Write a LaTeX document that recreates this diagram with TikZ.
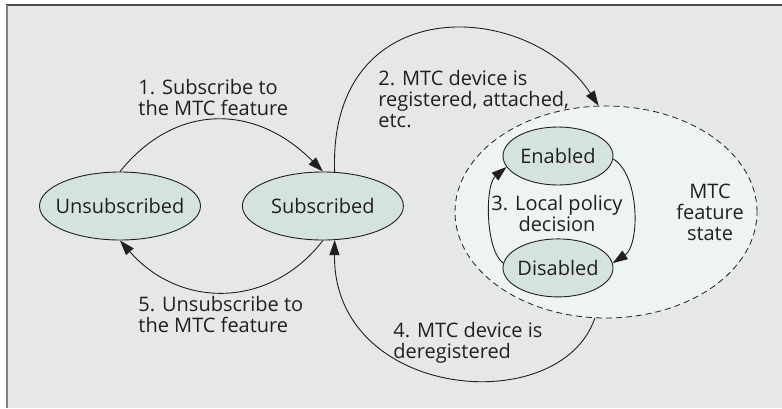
\documentclass[tikz,border=0pt]{standalone}
\usepackage{fontspec}
\setmainfont{Open Sans}
\usepackage{tikz}
\usepackage{xcolor}
\usetikzlibrary{positioning}
\usetikzlibrary{shapes.geometric}
\usetikzlibrary{arrows.meta}
\definecolor{panelgray}{HTML}{E6E7E8}
\definecolor{statefill}{HTML}{D5E3E0}
\definecolor{zonefill}{HTML}{EEF3F3}
\definecolor{inkgray}{HTML}{231F20}

\begin{document}
\begin{tikzpicture}[x=1pt, y=-1pt, ->, >={Triangle[length=15pt, width=10pt]}, color=inkgray, line width=0.9pt, font=\fontsize{20}{21}\selectfont]
    \tikzstyle{state}=[ellipse, draw, fill=statefill, minimum width=161pt, minimum height=68pt, inner xsep=-20pt, inner ysep=0pt]
    \tikzstyle{substate}=[ellipse, draw, fill=statefill, minimum width=110pt, minimum height=58pt, inner xsep=-20pt, inner ysep=0pt]
    \tikzstyle{zone}=[ellipse, draw, line width=0.8pt, dash pattern=on 6pt off 4pt, fill=zonefill, minimum width=302pt, minimum height=212pt]
    \tikzstyle{note}=[align=left, anchor=north west, inner sep=0pt]

    \useasboundingbox (0,0) rectangle (782,408);
    \fill[panelgray] (7,5) rectangle (782,408);
    \draw[-, line width=1.5pt, draw=black!70] (6,5) -- (782,5);
    \draw[-, line width=2pt, draw=black!50] (6.5,5) -- (6.5,408);

    % feature state area
    \node[zone] (zone) at (606,212) {};

    \node[state] (unsub) at (120,206) {Unsubscribed};
    \node[state, right=41pt of unsub] (sub) {Subscribed};
    \node[substate] (en) at (558,156) {Enabled};
    \node[substate, below=53pt of en] (dis) {Disabled};

    \draw (unsub.north) .. controls (175,103) and (255,103) .. (sub.north);
    \draw (sub.71) .. controls (328,-10) and (528,-2) .. (zone.94);
    \draw (en.-3) .. controls (640,175) and (640,245) .. (dis.5);
    \draw (dis.175) .. controls (485,250) and (485,185) .. (en.192);
    \draw (zone.-96) .. controls (560,420) and (333,400) .. (sub.-71);
    \draw (sub.south) .. controls (270,309) and (180,309) .. (unsub.south);

    \node[note] (subscribe) at (138,79) {1. Subscribe to\\the MTC feature};
    \node[note] (attach) at (378,70) {2. MTC device is\\registered, attached,\\etc.};
    \node[note, align=center, anchor=north] (policy) at (557,195) {3. Local policy\\decision};
    \node[note] (detach) at (393,322) {4. MTC device is\\deregistered};
    \node[note] (unsubscribe) at (138,296) {5. Unsubscribe to\\the MTC feature};
    \node[note, align=center, anchor=north] (featurestate) at (710,184) {MTC\\feature\\state};
\end{tikzpicture}
\end{document}
